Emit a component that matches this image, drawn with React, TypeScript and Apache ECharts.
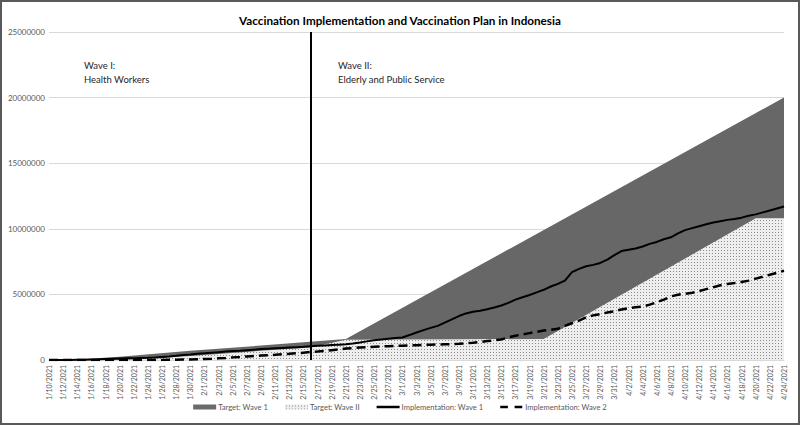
import { useEffect, useRef } from "react";
import * as echarts from "echarts";

const categories = [
  "1/10/2021","1/11/2021","1/12/2021","1/13/2021","1/14/2021","1/15/2021","1/16/2021","1/17/2021","1/18/2021","1/19/2021",
  "1/20/2021","1/21/2021","1/22/2021","1/23/2021","1/24/2021","1/25/2021","1/26/2021","1/27/2021","1/28/2021","1/29/2021",
  "1/30/2021","1/31/2021",
  "2/1/2021","2/2/2021","2/3/2021","2/4/2021","2/5/2021","2/6/2021","2/7/2021","2/8/2021","2/9/2021","2/10/2021",
  "2/11/2021","2/12/2021","2/13/2021","2/14/2021","2/15/2021","2/16/2021","2/17/2021","2/18/2021","2/19/2021","2/20/2021",
  "2/21/2021","2/22/2021","2/23/2021","2/24/2021","2/25/2021","2/26/2021","2/27/2021","2/28/2021",
  "3/1/2021","3/2/2021","3/3/2021","3/4/2021","3/5/2021","3/6/2021","3/7/2021","3/8/2021","3/9/2021","3/10/2021",
  "3/11/2021","3/12/2021","3/13/2021","3/14/2021","3/15/2021","3/16/2021","3/17/2021","3/18/2021","3/19/2021","3/20/2021",
  "3/21/2021","3/22/2021","3/23/2021","3/24/2021","3/25/2021","3/26/2021","3/27/2021","3/28/2021","3/29/2021","3/30/2021",
  "3/31/2021",
  "4/1/2021","4/2/2021","4/3/2021","4/4/2021","4/5/2021","4/6/2021","4/7/2021","4/8/2021","4/9/2021","4/10/2021",
  "4/11/2021","4/12/2021","4/13/2021","4/14/2021","4/15/2021","4/16/2021","4/17/2021","4/18/2021","4/19/2021","4/20/2021",
  "4/21/2021","4/22/2021","4/23/2021","4/24/2021",
];

// Target plans: breakpoints (straight segments between them)
const targetWave1: [string, number][] = [
  ["1/10/2021", 0],
  ["1/13/2021", 0],
  ["1/20/2021", 250000],
  ["1/30/2021", 700000],
  ["2/9/2021", 1100000],
  ["2/21/2021", 1600000],
  ["4/24/2021", 20000000],
];

const targetWave2: [string, number][] = [
  ["1/10/2021", 0],
  ["1/20/2021", 0],
  ["1/30/2021", 300000],
  ["2/9/2021", 700000],
  ["2/16/2021", 950000],
  ["2/21/2021", 1550000],
  ["3/21/2021", 1600000],
  ["4/20/2021", 10800000],
  ["4/24/2021", 10800000],
];

const implementationWave1 = [
  0, 0, 0, 0, 10000, 20000, 40000, 50000, 70000, 90000,
  110000, 130000, 140000, 160000, 170000, 190000, 230000, 270000, 320000, 380000,
  420000, 480000, 520000, 560000, 600000, 640000, 680000, 710000, 750000, 790000,
  830000, 860000, 890000, 920000, 950000, 980000, 1010000, 1050000, 1080000, 1110000,
  1140000, 1170000, 1200000, 1250000, 1330000, 1420000, 1500000, 1560000, 1620000, 1670000,
  1720000, 1900000, 2100000, 2280000, 2450000, 2600000, 2850000, 3100000, 3350000, 3550000,
  3680000, 3760000, 3870000, 4000000, 4150000, 4350000, 4600000, 4780000, 4950000, 5150000,
  5350000, 5600000, 5800000, 6050000, 6700000, 6950000, 7150000, 7250000, 7400000, 7650000,
  8000000, 8300000, 8400000, 8500000, 8650000, 8850000, 9000000, 9200000, 9350000, 9650000,
  9900000, 10050000, 10200000, 10350000, 10480000, 10580000, 10680000, 10750000, 10850000, 11000000,
  11100000, 11250000, 11400000, 11550000, 11700000,
];

const implementationWave2 = [
  0, 0, 0, 0, 0, 0, 0, 0, 0, 0,
  0, 0, 0, 0, 0, 0, 0, 10000, 20000, 30000,
  40000, 60000, 80000, 100000, 130000, 160000, 200000, 230000, 270000, 300000,
  340000, 370000, 400000, 440000, 470000, 510000, 560000, 610000, 650000, 700000,
  750000, 800000, 870000, 910000, 950000, 980000, 1010000, 1030000, 1050000, 1070000,
  1090000, 1110000, 1130000, 1150000, 1160000, 1180000, 1200000, 1210000, 1230000, 1270000,
  1320000, 1380000, 1440000, 1500000, 1570000, 1720000, 1850000, 1950000, 2050000, 2150000,
  2250000, 2300000, 2380000, 2600000, 2800000, 3000000, 3250000, 3400000, 3500000, 3620000,
  3720000, 3850000, 3950000, 4020000, 4080000, 4220000, 4400000, 4600000, 4850000, 4980000,
  5050000, 5120000, 5250000, 5400000, 5550000, 5700000, 5800000, 5870000, 5950000, 6050000,
  6200000, 6350000, 6500000, 6650000, 6800000,
];

const yTicks = [0, 5000000, 10000000, 15000000, 20000000, 25000000];
const dividerDate = "2/16/2021";

const FONT = "Lato, 'Open Sans', sans-serif";

// legend icons: full-height bounding box (zero-length moves at top/bottom) with a centred bar
const SOLID_ICON = "path://M0,0L0,0M0,1.2L24,1.2L24,3.8L0,3.8ZM24,5L24,5";
const DASH_ICON = "path://M0,0L0,0M0,1.1L8,1.1L8,3.9L0,3.9ZM15,1.1L23,1.1L23,3.9L15,3.9ZM24,5L24,5";

export default function App() {
  const ref = useRef<HTMLDivElement>(null);

  useEffect(() => {
    if (!ref.current) return;
    const chart = echarts.init(ref.current, null, { renderer: "svg" });

    const cv = document.createElement("canvas");
    cv.width = 3;
    cv.height = 3;
    const ctx = cv.getContext("2d");
    if (ctx) {
      ctx.fillStyle = "#eeeeee";
      ctx.fillRect(0, 0, 3, 3);
      ctx.fillStyle = "#8a8a8a";
      ctx.fillRect(1, 1, 1, 1);
    }
    const dotted: any = { image: cv, repeat: "repeat" };

    chart.setOption({
      animation: false,
      backgroundColor: "#ffffff",
      textStyle: { fontFamily: FONT },
      title: {
        text: "Vaccination Implementation and Vaccination Plan in Indonesia",
        left: "center",
        top: 9,
        textStyle: { fontFamily: FONT, fontSize: 11.7, fontWeight: "bold", color: "#000" },
      },
      grid: { left: 49, right: 16, top: 32, bottom: 65, containLabel: false },
      legend: {
        top: 398,
        left: "center",
        itemWidth: 23,
        itemHeight: 5,
        itemGap: 17,
        textStyle: { fontFamily: FONT, fontSize: 7.6, color: "#595959", padding: [0, 0, 0, -3] },
        data: [
          { name: "Target: Wave 1", icon: "rect", itemStyle: { color: "#6b6b6b" } },
          { name: "Target: Wave II", icon: "rect", itemStyle: { color: dotted } },
          { name: "Implementation: Wave 1", icon: SOLID_ICON, itemStyle: { color: "#000" } },
          { name: "Implementation: Wave 2", icon: DASH_ICON, itemStyle: { color: "#000" } },
        ],
      },
      xAxis: {
        type: "category",
        data: categories,
        boundaryGap: false,
        axisLine: { show: true, lineStyle: { color: "#d9d9d9", width: 1 } },
        axisTick: { show: false },
        axisLabel: {
          interval: 1,
          rotate: 90,
          fontSize: 7,
          color: "#595959",
          margin: 5,
          fontFamily: FONT,
        },
        splitLine: { show: false },
      },
      yAxis: {
        type: "value",
        min: yTicks[0],
        max: yTicks[yTicks.length - 1],
        interval: 5000000,
        axisLine: { show: false },
        axisTick: { show: false },
        axisLabel: {
          fontSize: 8,
          color: "#595959",
          margin: 4,
          fontFamily: FONT,
          formatter: (v: number) => String(v),
        },
        splitLine: { lineStyle: { color: "#d9d9d9", width: 1 } },
      },
      graphic: [
        {
          type: "rect",
          shape: { x: 1, y: 1, width: 798, height: 423 },
          style: { fill: "none", stroke: "#595959", lineWidth: 2 },
          silent: true,
          z: 100,
        },
        {
          type: "text",
          left: 84,
          top: 58,
          style: {
            text: "Wave I:\nHealth Workers",
            fontFamily: FONT,
            fontSize: 9.5,
            lineHeight: 14,
            fill: "#262626",
          },
        },
        {
          type: "text",
          left: 338,
          top: 58,
          style: {
            text: "Wave II:\nElderly and Public Service",
            fontFamily: FONT,
            fontSize: 9.5,
            lineHeight: 14,
            fill: "#262626",
          },
        },
      ],
      series: [
        {
          name: "Target: Wave 1",
          type: "line",
          data: targetWave1,
          symbol: "none",
          color: "#6b6b6b",
          lineStyle: { width: 0, color: "#6b6b6b" },
          areaStyle: { color: "#676767", opacity: 1 },
          z: 1,
        },
        {
          name: "Target: Wave II",
          type: "line",
          data: targetWave2,
          symbol: "none",
          color: "#cccccc",
          lineStyle: { width: 0, color: "#cccccc" },
          areaStyle: { color: dotted, opacity: 1 },
          z: 2,
        },
        {
          name: "Implementation: Wave 1",
          type: "line",
          data: implementationWave1,
          symbol: "none",
          color: "#000000",
          lineStyle: { width: 2, color: "#000000" },
          z: 3,
          markLine: {
            silent: true,
            symbol: "none",
            label: { show: false },
            lineStyle: { color: "#000000", width: 2, type: "solid" },
            data: [{ xAxis: dividerDate }],
          },
        },
        {
          name: "Implementation: Wave 2",
          type: "line",
          data: implementationWave2,
          symbol: "none",
          color: "#000000",
          lineStyle: { width: 2.5, color: "#000000", type: [9, 5] },
          z: 4,
        },
      ],
    });

    return () => chart.dispose();
  }, []);

  return (
    <div
      ref={ref}
      style={{ position: "absolute", left: 0, top: 0, width: 800, height: 425, background: "#fff" }}
    />
  );
}
